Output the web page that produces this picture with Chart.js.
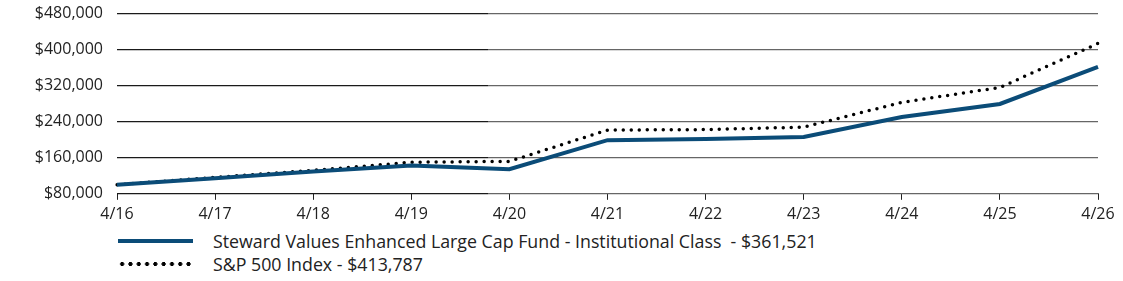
<!DOCTYPE html>
<html>
<head>
<meta charset="utf-8">
<script src="https://cdn.jsdelivr.net/npm/chart.js@4/dist/chart.umd.min.js"></script>
<style>
body { margin: 0; background: #fff; overflow: hidden; }
#wrap { position: relative; width: 1123px; height: 281px; font-family: "Open Sans", sans-serif; color: #222; overflow: hidden; }
#chart_box { position: absolute; left: 0; top: -10px; width: 1123px; height: 239px; }
#legend { position: absolute; left: 118px; top: 229px; font-size: 17.8px; }
.item { height: 23px; display: flex; align-items: center; }
.swatch { width: 75px; margin-right: 20px; }
</style>
</head>
<body>
<div id="wrap">
  <div id="chart_box"><canvas id="growth_chart"></canvas></div>
  <div id="legend"></div>
</div>
<script>
var years = ['4/16', '4/17', '4/18', '4/19', '4/20', '4/21', '4/22', '4/23', '4/24', '4/25', '4/26'];

var fund_data = [100000, 114500, 129500, 143000, 134500, 199000, 201500, 206000, 250500, 279500, 361521];
var spx_data = [100000, 116500, 132000, 150000, 152000, 221500, 222500, 228000, 283000, 316000, 413787];

var labels = ['Steward Values Enhanced Large Cap Fund - Institutional Class  - $361,521', 'S&P 500 Index - $413,787'];

var y_ticks = [80000, 160000, 240000, 320000, 400000, 480000];

var fund_colour = '#0b4c78';

function gridColour(ctx)
{
	var chart = ctx.chart;
	var g = chart.ctx.createLinearGradient(0, 0, chart.width, 0);
	var cut = 488 / chart.width;
	g.addColorStop(0, '#1a1a1a');
	g.addColorStop(cut, '#1a1a1a');
	g.addColorStop(cut, '#666666');
	g.addColorStop(1, '#666666');
	return g;
}

Chart.defaults.font.family = '"Open Sans", sans-serif';
Chart.defaults.font.size = 16;
Chart.defaults.color = '#222';

var growthChart = new Chart(document.getElementById('growth_chart').getContext('2d'), {
	type: 'line',
	data: {
		labels: years,
		datasets: [{
			label: labels[0],
			data: fund_data,
			borderColor: fund_colour,
			borderWidth: 4,
			pointRadius: 0,
			tension: 0
		}, {
			label: labels[1],
			data: spx_data,
			borderColor: '#000',
			borderWidth: 3.5,
			borderDash: [0, 8],
			borderCapStyle: 'round',
			pointRadius: 0,
			tension: 0
		}]
	},
	options: {
		responsive: true,
		maintainAspectRatio: false,
		animation: false,
		layout: { padding: { left: 0, right: 25, top: 0, bottom: 0 } },
		plugins: { legend: { display: false }, tooltip: { enabled: false } },
		scales: {
			x: {
				offset: false,
				grid: { drawOnChartArea: false, drawTicks: true, tickLength: 6, color: '#222' },
				border: { display: true, color: gridColour },
				ticks: { padding: 5, maxRotation: 0 }
			},
			y: {
				min: 80000,
				max: 480000,
				afterBuildTicks: function(scale) {
					scale.ticks = y_ticks.map(function(v) { return { value: v }; });
				},
				afterFit: function(scale) { scale.width = 117; },
				border: { display: false },
				grid: { color: gridColour, lineWidth: 1.3, drawTicks: false },
				ticks: {
					padding: 14,
					callback: function(v) { return '$' + v.toLocaleString('en-US'); }
				}
			}
		}
	}
});

// html legend built from the datasets
var legendHtml = '';
growthChart.data.datasets.forEach(function (ds, index)
{
	var sw = index == 0
		? '<div class="swatch" style="border-top:4px solid ' + fund_colour + '"></div>'
		: '<div class="swatch" style="height:4px;background:radial-gradient(circle,#000 1.8px,transparent 2.2px) 0 0/8.3px 4px repeat-x"></div>';
	legendHtml += '<div class="item">' + sw + '<span>' + ds.label.replace(/  /g, ' &nbsp;') + '</span></div>';
});
document.getElementById('legend').innerHTML = legendHtml;
</script>
</body>
</html>
